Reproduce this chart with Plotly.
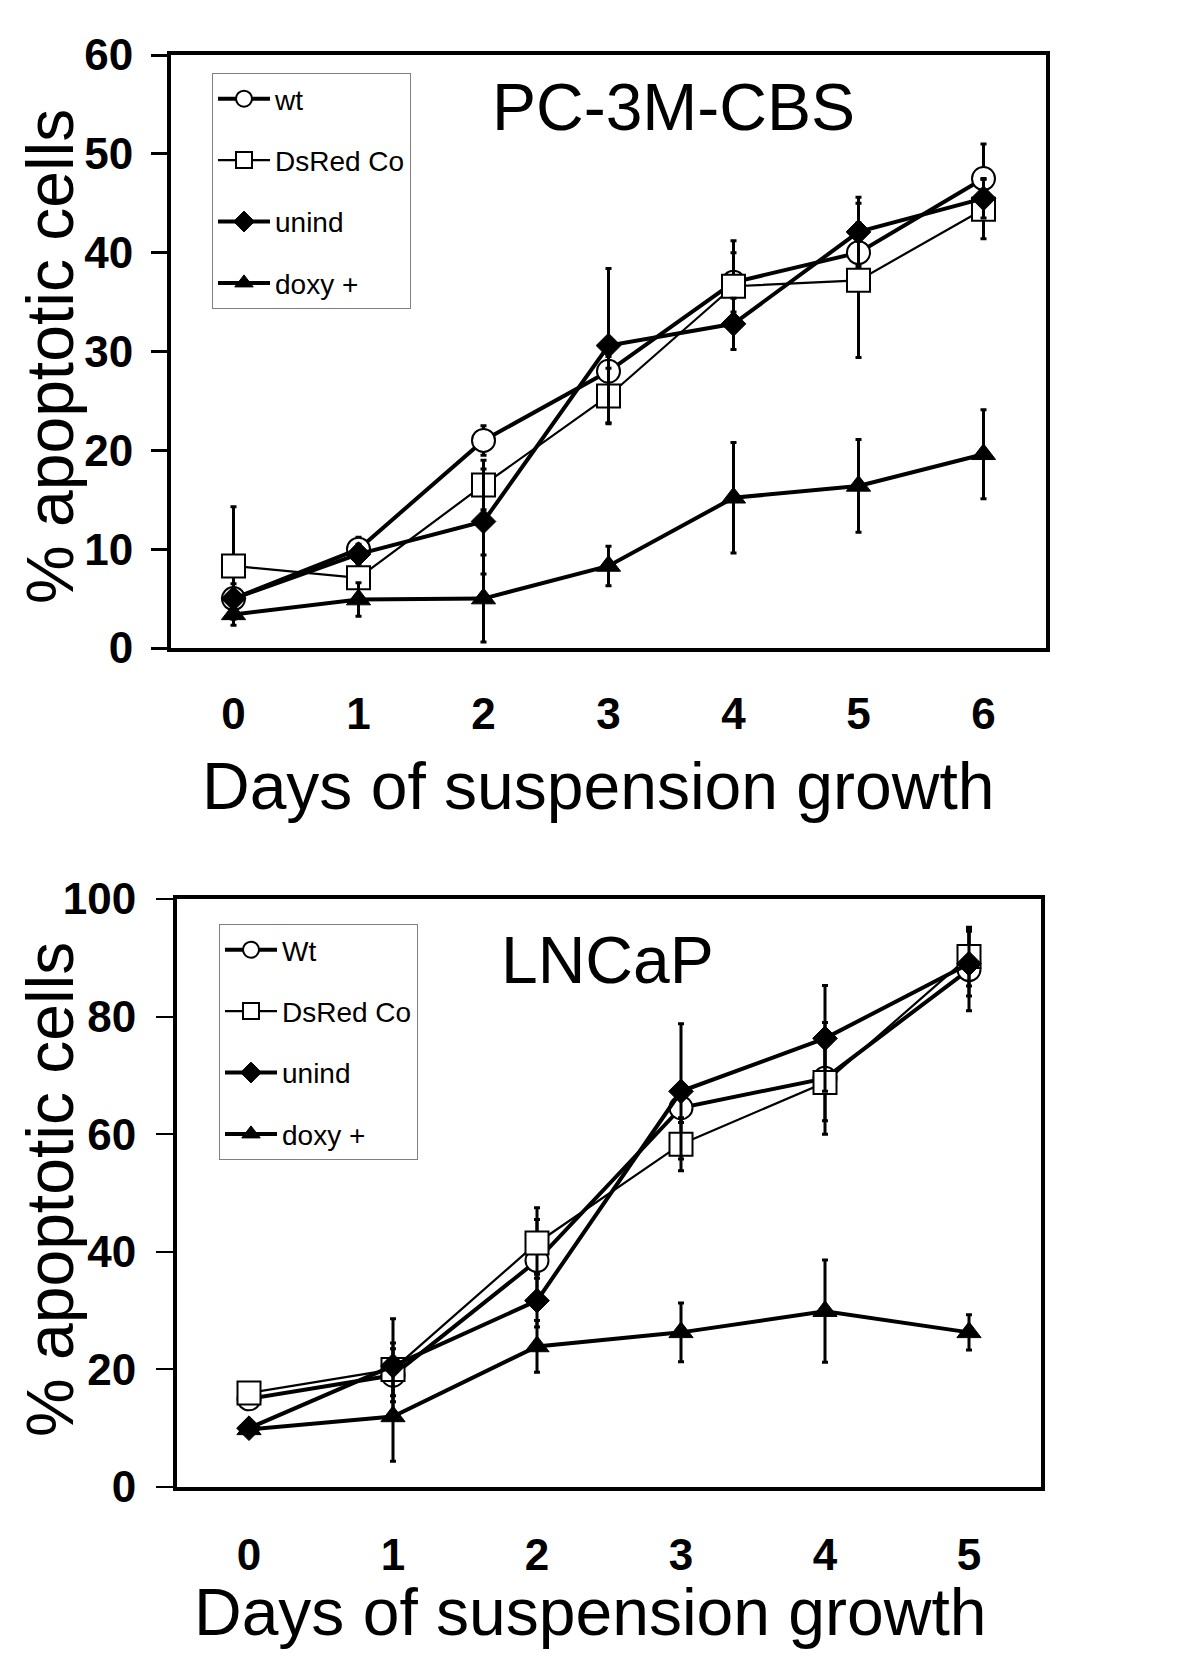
import plotly.graph_objects as go

# ---------------- data ----------------
days_top = [0, 1, 2, 3, 4, 5, 6]
top_wt = [5.0, 10.0, 21.0, 28.0, 37.0, 40.0, 47.5]
top_wt_err = [1.0, 1.2, 1.5, 1.5, 3.0, 3.0, 3.5]
top_dsred = [8.3, 7.1, 16.5, 25.5, 36.6, 37.2, 44.4]
top_dsred_err = [6.0, 1.0, 2.5, 2.8, 4.6, 7.8, 3.0]
top_unind = [5.0, 9.5, 12.8, 30.6, 32.8, 42.1, 45.5]
top_unind_err = [1.5, 1.0, 5.3, 7.8, 2.6, 3.5, 2.0]
top_doxy = [3.4, 4.9, 5.0, 8.3, 15.2, 16.4, 19.6]
top_doxy_err = [0.5, 1.7, 4.4, 2.0, 5.6, 4.7, 4.5]

days_bot = [0, 1, 2, 3, 4, 5]
bot_wt = [15.0, 19.0, 38.5, 64.5, 69.5, 88.0]
bot_wt_err = [1.5, 4.5, 7.0, 2.5, 9.5, 7.0]
bot_dsred = [16.0, 20.0, 41.5, 58.3, 68.8, 90.2]
bot_dsred_err = [1.5, 4.5, 6.0, 4.5, 6.5, 5.0]
bot_unind = [10.0, 20.6, 31.7, 67.3, 76.3, 89.0]
bot_unind_err = [1.0, 8.0, 4.5, 11.5, 9.0, 5.5]
bot_doxy = [9.8, 12.0, 23.9, 26.3, 29.9, 26.3]
bot_doxy_err = [1.0, 7.6, 4.4, 5.0, 8.7, 3.0]

top_names = ["wt", "DsRed Co", "unind", "doxy +"]
bot_names = ["Wt", "DsRed Co", "unind", "doxy +"]
top_title = "PC-3M-CBS"
bot_title = "LNCaP"
x_title = "Days of suspension growth"
y_title = "% apoptotic cells"

# ---------------- styles ----------------
# the page body has an 8px margin, so the figure is 16px smaller than the window
W, H = 1184, 1643
OFF = 8
FONT = "Liberation Sans, Arial, sans-serif"
styles = [
    dict(symbol="circle", size=23, color="white", lw=2, line=4),
    dict(symbol="square", size=23, color="white", lw=2, line=2.2),
    dict(symbol="diamond", size=19, color="black", lw=1, line=4),
    dict(symbol="triangle-up", size=21, color="black", lw=1, line=4),
]

fig = go.Figure()

def add_series(x, ys, errs, names, xa, ya, legend, prefix):
    for i, (y, e, n) in enumerate(zip(ys, errs, names)):
        s = styles[i]
        fig.add_trace(go.Scatter(
            x=x, y=y, name=n, mode="lines+markers",
            xaxis=xa, yaxis=ya, legend=legend, legendgroup=prefix + str(i),
            line=dict(color="black", width=s["line"]),
            marker=dict(symbol=s["symbol"], size=s["size"], color=s["color"],
                        line=dict(color="black", width=s["lw"])),
            error_y=dict(type="data", array=e, visible=True, color="black",
                         thickness=3, width=3),
        ))

add_series(days_top, [top_wt, top_dsred, top_unind, top_doxy],
           [top_wt_err, top_dsred_err, top_unind_err, top_doxy_err],
           top_names, "x", "y", "legend", "t")
add_series(days_bot, [bot_wt, bot_dsred, bot_unind, bot_doxy],
           [bot_wt_err, bot_dsred_err, bot_unind_err, bot_doxy_err],
           bot_names, "x2", "y2", "legend2", "b")

# page pixel -> paper fraction
def px_x(v):
    return (v - OFF) / W

def px_y(v):
    return 1 - (v - OFF) / H

tickfont = dict(family=FONT, size=44, color="black", weight="bold")
axis_common = dict(showline=True, linecolor="black", linewidth=4, mirror=True,
                   showgrid=False, zeroline=False, tickfont=tickfont,
                   automargin=False)

leg_common = dict(bgcolor="white", bordercolor="#808080", borderwidth=1,
                  font=dict(family=FONT, size=28, color="black"),
                  tracegroupgap=22, xanchor="left", yanchor="top",
                  itemsizing="trace", itemwidth=52)

fig.update_layout(
    width=W, height=H,
    margin=dict(l=0, r=0, t=0, b=0, autoexpand=False),
    paper_bgcolor="white", plot_bgcolor="white",
    showlegend=True,
    xaxis=dict(domain=[px_x(171), px_x(1046)], range=[-0.5, 6.5],
               tickvals=days_top, ticks="", ticklabelstandoff=24,
               anchor="y", **axis_common),
    yaxis=dict(domain=[px_y(648), px_y(55)], range=[0, 60],
               tickvals=[0, 10, 20, 30, 40, 50, 60], ticks="outside",
               ticklen=16, tickwidth=3, tickcolor="black",
               ticklabelstandoff=9, anchor="x", **axis_common),
    xaxis2=dict(domain=[px_x(177), px_x(1041)], range=[-0.5, 5.5],
                tickvals=days_bot, ticks="", ticklabelstandoff=26,
                anchor="y2", **axis_common),
    yaxis2=dict(domain=[px_y(1487), px_y(899)], range=[0, 100],
                tickvals=[0, 20, 40, 60, 80, 100], ticks="outside",
                ticklen=17, tickwidth=1.5, tickcolor="black",
                ticklabelstandoff=11, anchor="x2", **axis_common),
    legend=dict(x=px_x(212), y=px_y(73), **leg_common),
    legend2=dict(x=px_x(219), y=px_y(924), **leg_common),
)

big = dict(family=FONT, size=66, color="black")
annos = [
    dict(text=top_title, x=px_x(673), y=px_y(107)),
    dict(text=bot_title, x=px_x(607), y=px_y(960)),
    dict(text=x_title, x=px_x(598), y=px_y(786)),
    dict(text=x_title, x=px_x(590), y=px_y(1612)),
    dict(text=y_title, x=px_x(50), y=px_y(357), textangle=-90),
    dict(text=y_title, x=px_x(50), y=px_y(1190), textangle=-90),
]
for a in annos:
    fig.add_annotation(xref="paper", yref="paper", showarrow=False,
                       xanchor="center", yanchor="middle", font=big, **a)

fig.write_html("out.html")
